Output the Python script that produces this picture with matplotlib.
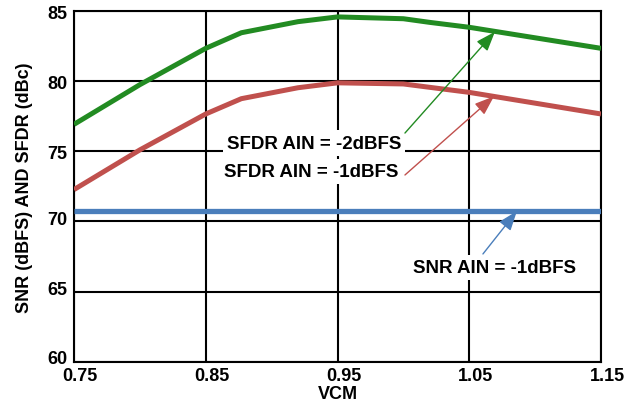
import matplotlib
matplotlib.use("Agg")
import matplotlib.pyplot as plt
from matplotlib.transforms import ScaledTranslation

plt.rcParams['font.family'] = ['Liberation Sans', 'DejaVu Sans']
plt.rcParams['font.weight'] = 'bold'

vcm = [0.75, 0.80, 0.85, 0.877, 0.92, 0.95, 1.00, 1.02, 1.05, 1.15]
sfdr_2dbfs = [76.92, 79.75, 82.34, 83.45, 84.24, 84.58, 84.45, 84.19, 83.84, 82.34]
sfdr_1dbfs = [72.27, 75.10, 77.66, 78.75, 79.53, 79.88, 79.80, 79.56, 79.20, 77.66]
vcm_snr = [0.75, 0.85, 0.95, 1.05, 1.15]
snr_1dbfs = [70.72, 70.72, 70.72, 70.72, 70.72]

xticks = [0.75, 0.85, 0.95, 1.05, 1.15]
xticklabels = ["0.75", "0.85", "0.95", "1.05", "1.15"]
yticks = [60, 65, 70, 75, 80, 85]

green = '#228b22'
red = '#c0504d'
blue = '#4a7ebb'

fig = plt.figure(figsize=(6.38, 4.10), dpi=100)
ax = fig.add_axes([0.116, 0.1154, 0.826, 0.8553])

ax.plot(vcm, sfdr_2dbfs, color=green, lw=3.6, solid_capstyle='butt', zorder=3)
ax.plot(vcm, sfdr_1dbfs, color=red, lw=3.6, solid_capstyle='butt', zorder=3)
ax.plot(vcm_snr, snr_1dbfs, color=blue, lw=3.8, solid_capstyle='butt', zorder=3)

ax.set_xlim(0.75, 1.15)
ax.set_ylim(60, 85)
ax.set_xticks(xticks)
ax.set_xticklabels(xticklabels)
ax.set_yticks(yticks)
ax.grid(True, color='black', lw=1.5)
ax.set_axisbelow(True)
for s in ax.spines.values():
    s.set_linewidth(1.5)
    s.set_color('black')
ax.tick_params(length=0, labelsize=13)
ax.tick_params(axis='x', pad=3.5)
ax.tick_params(axis='y', pad=5)

xoff = ScaledTranslation(6 / 100, 0, fig.dpi_scale_trans)
for lab in ax.get_xticklabels():
    lab.set_fontweight('bold')
    lab.set_transform(lab.get_transform() + xoff)
yshift = {60: 5, 65: 4, 70: 4}
for val, lab in zip(yticks, ax.get_yticklabels()):
    lab.set_fontweight('bold')
    dy = yshift.get(val, 0)
    if dy:
        lab.set_transform(lab.get_transform() + ScaledTranslation(0, dy / 100, fig.dpi_scale_trans))

ax.set_xlabel("VCM", fontsize=13, fontweight='bold', labelpad=1)
ax.set_ylabel("SNR (dBFS) AND SFDR (dBc)", fontsize=13, fontweight='bold', labelpad=10)

bbox = dict(facecolor='white', edgecolor='none', pad=3)
ax.text(0.9322, 75.59, "SFDR AIN = -2dBFS", fontsize=13.5, fontweight='bold',
        ha='center', va='center', bbox=bbox, zorder=4)
ax.text(0.9299, 73.55, "SFDR AIN = -1dBFS", fontsize=13.5, fontweight='bold',
        ha='center', va='center', bbox=bbox, zorder=4)
ax.text(1.0695, 66.73, "SNR AIN = -1dBFS", fontsize=13.5, fontweight='bold',
        ha='center', va='center', bbox=bbox, zorder=4)

astyle = '-|>,head_length=0.6,head_width=0.22'
ax.annotate("", xy=(1.0695, 83.52), xytext=(1.0012, 76.30),
            arrowprops=dict(arrowstyle=astyle, color=green, lw=1, mutation_scale=20,
                            shrinkA=0, shrinkB=0), zorder=5)
ax.annotate("", xy=(1.0688, 78.92), xytext=(1.0012, 73.31),
            arrowprops=dict(arrowstyle=astyle, color=red, lw=1, mutation_scale=20,
                            shrinkA=0, shrinkB=0), zorder=5)
ax.annotate("", xy=(1.0862, 70.74), xytext=(1.0604, 67.68),
            arrowprops=dict(arrowstyle=astyle, color=blue, lw=1, mutation_scale=20,
                            shrinkA=0, shrinkB=0), zorder=5)

fig.savefig("out.png", dpi=100)
